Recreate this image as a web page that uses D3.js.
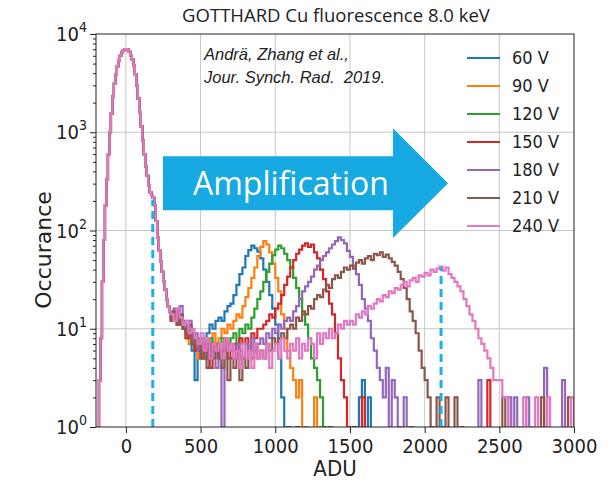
<!DOCTYPE html>
<html>
<head>
<meta charset="utf-8">
<script src="https://cdn.jsdelivr.net/npm/d3@7"></script>
<style>
	body { margin: 0; background: #fff; }
	.cond { font-family: "DejaVu Sans Condensed", "DejaVu Sans", sans-serif; font-stretch: condensed; }
</style>
</head>
<body>
<svg id="chart" width="613" height="482"></svg>
<script>
// series labels and colours (matplotlib tab10)
const labels = ['60 V', '90 V', '120 V', '150 V', '180 V', '210 V', '240 V'];
const colors = ['#1f77b4', '#ff7f0e', '#2ca02c', '#d62728', '#9467bd', '#8c564b', '#e377c2'];

// noise peak, shared by all voltages: 10 ADU bins from -200 to 300
const noiseStart = -200;
const noiseBin = 10;
const noisePeak = [
	0, 1, 3, 8, 30, 80, 180, 330, 600, 1000,
	1550, 2300, 3100, 3900, 4700, 5400, 6000, 6500, 6800, 7000,
	7000, 6900, 6600, 6100, 5500, 4800, 3900, 3000, 2200, 1600,
	1150, 820, 600, 450, 360, 290, 245, 225, 215, 180,
	125, 85, 62, 48, 38, 30, 25, 20, 17, 15
];

// photon peaks: 20 ADU bins starting at 300 (one row = 100 ADU)
const tailStart = 300;
const tailBin = 20;
const tail60 = [
	14, 12, 15, 11, 12,  9, 10, 6, 3, 7,  8, 6, 9, 11, 10,  12, 13, 12, 15, 17,
	18, 22, 28, 36, 42,  55, 63, 70, 66, 61,  52, 40, 30, 22, 16,  11, 5, 2, 0, 1,
	0, 0, 1, 0, 0,  0, 0, 0, 0, 0,  0, 0, 0, 0, 0,  0, 0, 0, 0, 0,
	0, 0, 0, 2, 3,  0, 2, 0, 0, 0
];
const tail90 = [
	13, 12, 16, 11, 10,  9, 7, 8, 6, 5,  7, 5, 8, 6, 9,  7, 8, 10, 9, 11,
	10, 12, 14, 13, 17,  21, 26, 33, 42, 55,  68, 78, 72, 60, 46,  33, 24, 14, 10, 6,
	4, 3, 2, 3, 1,  1, 0, 0, 2, 0,  1
];
const tail120 = [
	15, 13, 12, 14, 10,  8, 9, 7, 6, 8,  6, 7, 5, 8, 6,  7, 5, 8, 6, 7,
	8, 9, 7, 10, 9,  11, 10, 13, 16, 20,  24, 30, 38, 46, 56,  64, 70, 66, 58, 50,
	42, 33, 26, 20, 14,  11, 8, 5, 4, 3,  2, 1, 0, 1
];
const tail150 = [
	12, 14, 11, 13, 11,  8, 10, 9, 6, 7,  5, 7, 6, 4, 6,  7, 5, 6, 8, 5,
	6, 7, 5, 8, 7,  8, 6, 9, 8, 10,  10, 11, 12, 14, 13,  16, 18, 22, 28, 34,
	42, 50, 58, 64, 70,  74, 68, 72, 60, 52,  40, 32, 24, 18, 14,  9, 5, 3, 2, 1,
	0, 1, 0, 0, 2,  0, 0, 0, 0, 0,  0, 0, 0, 0, 0,  0, 0, 0, 0, 0,
	0, 0, 0, 0, 0,  0, 0, 0, 0, 0,  0, 0, 0, 0, 0,  0, 0, 0, 0, 0,
	0, 0, 0, 0, 0,  0, 3, 0, 0, 0
];
const tail180 = [
	13, 16, 12, 17, 11,  10, 12, 7, 9, 6,  8, 5, 7, 5, 6,  4, 6, 1, 5, 7,
	6, 5, 7, 6, 5,  7, 6, 8, 6, 7,  8, 7, 9, 8, 10,  9, 11, 10, 12, 13,
	12, 15, 17, 20, 24,  27, 30, 34, 40, 44,  50, 55, 60, 66, 72,  78, 85, 80, 74, 62,
	54, 44, 36, 28, 20,  16, 12, 8, 6, 4,  3, 2, 4, 1, 3,  2, 1, 0, 2, 0,
	1, 0, 0, 0, 0,  0, 0, 0, 0, 0,  0, 0, 0, 0, 0,  0, 0, 0, 0, 0,
	0, 0, 0, 3, 0,  0, 0, 0, 0, 0,  0, 0, 0, 2, 0,  2, 0, 0, 0, 2,
	0, 0, 0, 0, 0,  4, 0, 0, 0, 0,  0, 3, 0, 0, 0
];
const tail210 = [
	12, 15, 11, 14, 10,  9, 11, 7, 8, 7,  5, 6, 4, 7, 5,  6, 5, 4, 6, 3,
	5, 4, 6, 3, 5,  4, 6, 5, 7, 5,  6, 5, 7, 6, 8,  7, 8, 9, 8, 10,
	11, 10, 13, 12, 15,  14, 17, 16, 20, 22,  21, 25, 28, 26, 32,  35, 33, 38, 42, 40,
	44, 41, 47, 50, 46,  52, 55, 50, 58, 56,  60, 54, 57, 52, 48,  44, 38, 32, 26, 20,
	15, 12, 9, 6, 4,  3, 2, 1, 0, 2,  0, 1, 2, 0, 0,  2, 0, 1, 0, 0,
	0, 0, 0, 0, 0,  0, 0, 0, 0, 0,  0, 2, 0, 0, 0,  0, 0, 0, 0, 0,
	0, 0, 0, 0, 2,  0, 0, 0, 0, 0,  0, 0, 0, 2, 0
];
const tail240 = [
	14, 12, 16, 13, 11,  12, 9, 10, 8, 7,  9, 6, 8, 5, 7,  6, 7, 5, 8, 6,
	7, 5, 6, 4, 7,  5, 6, 4, 7, 5,  6, 5, 7, 4, 6,  7, 5, 8, 6, 5,
	7, 6, 8, 5, 7,  6, 8, 7, 5, 9,  7, 9, 8, 10, 8,  9, 11, 10, 12, 11,
	12, 11, 14, 13, 15,  14, 17, 16, 18, 20,  19, 22, 21, 24, 23,  26, 25, 28, 30, 27,
	31, 33, 30, 35, 34,  37, 35, 40, 38, 41,  43, 39, 42, 36, 33,  30, 27, 24, 20, 17,
	14, 12, 10, 8, 7,  6, 5, 4, 3, 3,  3, 2, 2, 1, 1,  0, 1, 0, 2, 0,
	1, 0, 2, 0, 0,  0, 2, 0, 0, 0,  0, 0, 1, 0, 2
];
const tails = [tail60, tail90, tail120, tail150, tail180, tail210, tail240];

// axis ticks
const xTicks = [0, 500, 1000, 1500, 2000, 2500, 3000];
const yTicks = [1, 10, 100, 1000, 10000];
const yExp = [0, 1, 2, 3, 4];

// dashed markers (noise shoulder, 240 V peak)
const markerADU = [180, 2110];
const markerTop = [205, 42];

// "Amplification" arrow outline in data units (ADU, counts)
const arrowADU = [248, 1788, 1788, 2157, 1788, 1788, 248];
const arrowCnt = [571, 571, 1100, 303, 84, 161, 161];

const W = 613;
const H = 482;
const m = { top: 34, right: 39, bottom: 55, left: 96 };

const svg = d3.select('#chart');

const x = d3.scaleLinear().domain([-200, 3000]).range([m.left, W - m.right]);
const y = d3.scaleLog().domain([1, 1e4]).range([H - m.bottom, m.top]);

svg.append('defs').append('clipPath').attr('id', 'plot')
	.append('rect')
	.attr('x', m.left).attr('y', m.top)
	.attr('width', W - m.left - m.right).attr('height', H - m.top - m.bottom);

// grid
const grid = svg.append('g').attr('stroke', '#c8c8c8').attr('stroke-width', 1);
grid.selectAll('.gx').data(xTicks.slice(0, -1)).enter().append('line')
	.attr('x1', d => x(d)).attr('x2', d => x(d))
	.attr('y1', m.top).attr('y2', H - m.bottom);
grid.selectAll('.gy').data(yTicks.slice(1, -1)).enter().append('line')
	.attr('x1', m.left).attr('x2', W - m.right)
	.attr('y1', d => y(d)).attr('y2', d => y(d));

// histograms
const toBins = tail => {
	const bins = noisePeak.map((v, i) => ({ x0: noiseStart + i * noiseBin, x1: noiseStart + (i + 1) * noiseBin, v }));
	tail.forEach((v, i) => bins.push({ x0: tailStart + i * tailBin, x1: tailStart + (i + 1) * tailBin, v }));
	return bins;
};

const stepLine = bins => {
	const pts = [[bins[0].x0, 0]];
	bins.forEach(b => {
		pts.push([b.x0, b.v]);
		pts.push([b.x1, b.v]);
	});
	pts.push([bins[bins.length - 1].x1, 0]);
	return d3.line()
		.x(d => x(d[0]))
		.y(d => y(Math.max(d[1], 0.5)))(pts);
};

svg.append('g').attr('clip-path', 'url(#plot)')
	.selectAll('path')
	.data(tails)
	.enter()
	.append('path')
	.attr('d', d => stepLine(toBins(d)))
	.attr('fill', 'none')
	.attr('stroke', (d, i) => colors[i])
	.attr('stroke-width', 2.2)
	.attr('stroke-linejoin', 'miter');

// dashed markers
svg.append('g').selectAll('line')
	.data(markerADU)
	.enter()
	.append('line')
	.attr('x1', d => x(d)).attr('x2', d => x(d))
	.attr('y1', y(1)).attr('y2', (d, i) => y(markerTop[i]))
	.attr('stroke', '#1ab2ea')
	.attr('stroke-width', 3)
	.attr('stroke-dasharray', '8,5');

// arrow
svg.append('polygon')
	.attr('points', arrowADU.map((a, i) => `${x(a)},${y(arrowCnt[i])}`).join(' '))
	.attr('fill', '#17a9e1');

svg.append('text')
	.attr('x', x(1105)).attr('y', y(303))
	.attr('dy', '0.36em')
	.attr('text-anchor', 'middle')
	.attr('fill', '#fff')
	.style('font-family', '"Open Sans", sans-serif')
	.style('font-size', '32px')
	.text('Amplification');

// frame
svg.append('rect')
	.attr('x', m.left).attr('y', m.top)
	.attr('width', W - m.left - m.right).attr('height', H - m.top - m.bottom)
	.attr('fill', 'none').attr('stroke', '#222').attr('stroke-width', 1);

// x axis
const xAxis = svg.append('g')
	.attr('transform', `translate(0,${H - m.bottom})`)
	.call(d3.axisBottom(x).tickValues(xTicks).tickSize(6).tickPadding(6).tickFormat(d3.format('d')));
xAxis.select('.domain').remove();
xAxis.selectAll('text').attr('class', 'cond').style('font-size', '20px').attr('fill', '#222');
xAxis.selectAll('line').attr('stroke', '#222');

// y axis: major ticks, minor ticks, labels as 10^n
const yAxis = svg.append('g')
	.attr('transform', `translate(${m.left},0)`)
	.call(d3.axisLeft(y).tickValues(yTicks).tickSize(6).tickFormat(''));
yAxis.select('.domain').remove();

const minors = [];
yExp.slice(0, -1).forEach(e => {
	for (let k = 2; k < 10; k++) minors.push(k * Math.pow(10, e));
});
const yMinor = svg.append('g')
	.attr('transform', `translate(${m.left},0)`)
	.call(d3.axisLeft(y).tickValues(minors).tickSize(3).tickFormat(''));
yMinor.select('.domain').remove();
svg.selectAll('.tick line').attr('stroke', '#222');

const yLab = svg.append('g').selectAll('text')
	.data(yTicks)
	.enter()
	.append('text')
	.attr('class', 'cond')
	.attr('x', m.left - 9)
	.attr('y', d => y(d) + 7)
	.attr('text-anchor', 'end')
	.attr('fill', '#222')
	.style('font-size', '20px');
yLab.append('tspan').text('10');
yLab.append('tspan')
	.attr('dy', -9)
	.style('font-size', '14px')
	.text((d, i) => yExp[i]);

// axis titles
svg.append('text')
	.attr('class', 'cond')
	.attr('x', x(1400)).attr('y', 476)
	.attr('text-anchor', 'middle')
	.attr('fill', '#222')
	.style('font-size', '22px')
	.text('ADU');

svg.append('text')
	.attr('transform', 'translate(51,250) rotate(-90)')
	.attr('text-anchor', 'middle')
	.attr('fill', '#222')
	.style('font-family', '"DejaVu Sans", sans-serif')
	.style('font-size', '22px')
	.text('Occurance');

svg.append('text')
	.attr('x', 336).attr('y', 22)
	.attr('text-anchor', 'middle')
	.attr('fill', '#222')
	.style('font-family', '"Open Sans", sans-serif')
	.style('font-size', '18.5px')
	.text('GOTTHARD Cu fluorescence 8.0 keV');

// citation
const cite = svg.append('text')
	.attr('fill', '#222')
	.style('font-family', '"Liberation Sans", Arial, sans-serif')
	.style('font-style', 'italic')
	.style('font-size', '16.5px')
	.style('white-space', 'pre');
cite.append('tspan').attr('x', 204).attr('y', 60).text('Andrä, Zhang et al.,');
cite.append('tspan').attr('x', 204).attr('y', 83).text('Jour. Synch. Rad.  2019.');

// legend
const legend = svg.append('g').selectAll('g')
	.data(labels)
	.enter()
	.append('g')
	.attr('transform', (d, i) => `translate(467,${58 + i * 28})`);
legend.append('line')
	.attr('x1', 0).attr('x2', 33)
	.attr('stroke', (d, i) => colors[i])
	.attr('stroke-width', 2);
legend.append('text')
	.attr('class', 'cond')
	.attr('x', 45)
	.attr('dy', '0.36em')
	.attr('fill', '#222')
	.style('font-size', '18px')
	.text(d => d);
</script>
</body>
</html>
